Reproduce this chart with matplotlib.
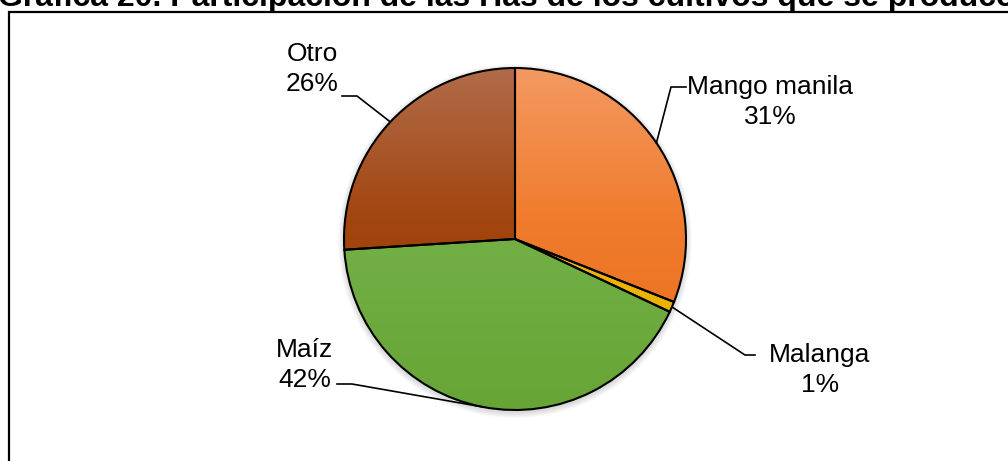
import matplotlib.pyplot as plt
import numpy as np
from matplotlib.colors import LinearSegmentedColormap
from matplotlib.patches import Rectangle, Circle

plt.rcParams['font.family'] = ['Liberation Sans', 'DejaVu Sans']

cultivos = ['Mango manila', 'Malanga', 'Maíz', 'Otro']
porcentajes = [31, 1, 42, 26]
# top / base / bottom colour of each slice gradient
colores = [('#F39A62', '#F07B2C', '#E96D1C'),
           ('#F8C828', '#F0B800', '#E6AE00'),
           ('#88BE68', '#74B048', '#66A535'),
           ('#B16C4A', '#A2450E', '#983B00')]
titulo = 'Gráfica 20. Participación de las Has de los cultivos que se produce'

W, H = 1008, 461
fig = plt.figure(figsize=(W / 100, H / 100), dpi=100)
ax = fig.add_axes([0, 0, 1, 1])

# chart frame, runs past the right and bottom edges
fig.patches.append(Rectangle((9 / W, -0.1), 1.2, 1 - 12 / H + 0.1, transform=fig.transFigure,
                             fill=False, edgecolor='black', linewidth=1.6))

fig.text(-0.002, 1 - 6 / H, titulo, fontsize=23, fontweight='bold', ha='left', va='baseline')

cx, cy, r = 515, H - 239, 171

# soft shadow under the pie
for k in range(6):
    ax.add_patch(Circle((cx, cy - 2), r + 1 + k, facecolor='black', edgecolor='none',
                        alpha=0.025, zorder=0.1))

wedges, _ = ax.pie(porcentajes, center=(cx, cy), radius=r, startangle=90, counterclock=False,
                   wedgeprops=dict(edgecolor='black', linewidth=1.5), frame=True)

grad = np.linspace(1, 0, 256).reshape(-1, 1)
for w, (top, base, bot) in zip(wedges, colores):
    w.set_facecolor('none')
    w.set_zorder(1)
    cmap = LinearSegmentedColormap.from_list('g', [(0, bot), (0.55, base), (1, top)])
    im = ax.imshow(grad, cmap=cmap, extent=(cx - r, cx + r, cy - r, cy + r),
                   aspect='auto', zorder=0.5, origin='upper')
    im.set_clip_path(w)

ax.set_xlim(0, W)
ax.set_ylim(0, H)
ax.set_aspect('equal')
ax.axis('off')

# label text centre, elbow start, elbow end
etiquetas = [
    ((770, 102), (686, 87), (671, 87)),
    ((820, 370), (755, 355), (745, 355)),
    ((305, 365), (337, 384), (352, 384)),
    ((312, 69), (342, 96), (357, 96)),
]
for w, nombre, pct, (txt, p1, p2) in zip(wedges, cultivos, porcentajes, etiquetas):
    ang = np.deg2rad((w.theta1 + w.theta2) / 2)
    ex, ey = cx + r * np.cos(ang), cy + r * np.sin(ang)
    ax.plot([p1[0], p2[0], ex], [H - p1[1], H - p2[1], ey], color='black', lw=1.2, zorder=3)
    ax.text(txt[0], H - txt[1], f'{nombre}\n{pct}%', fontsize=19, ha='center', va='center',
            linespacing=1.3)

fig.savefig('out.png', dpi=100)
